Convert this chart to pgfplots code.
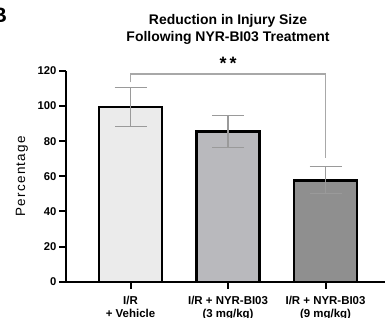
\documentclass[border=0pt]{standalone}
\usepackage{fontspec}
\setmainfont{Liberation Sans}
\newfontfamily\ylfont[LetterSpace=10]{Liberation Sans}
\usepackage{pgfplots}
\pgfplotsset{compat=1.18}
\definecolor{barA}{HTML}{EBEBEB}
\definecolor{barB}{HTML}{B9B9BD}
\definecolor{barC}{HTML}{8F8F8F}
\definecolor{errc}{HTML}{9A9A9A}
\definecolor{brc}{HTML}{A8A8A8}
\begin{document}
\begin{tikzpicture}
\useasboundingbox (0bp,0bp) rectangle (385bp,318bp);
\node[anchor=base east, font=\bfseries\fontsize{21}{24}\selectfont, inner sep=0pt] at (7.3bp,295bp) {B};
\node[anchor=base, font=\bfseries\fontsize{14}{16}\selectfont, inner sep=0pt] at (228bp,293bp) {Reduction in Injury Size};
\node[anchor=base, font=\bfseries\fontsize{14}{16}\selectfont, inner sep=0pt] at (228bp,276.3bp) {Following NYR-BI03 Treatment};
\begin{axis}[
  at={(66bp,36.3bp)}, anchor=south west,
  scale only axis, width=319bp, height=210.7bp,
  xmin=-0.662, xmax=2.61, ymin=0, ymax=120,
  axis x line=bottom, axis y line=left,
  axis line style={-, line width=2.4bp, black},
  ytick={0,20,40,60,80,100,120},
  xtick={0,1,2},
  xticklabels={{I/R\\+ Vehicle},{I/R + NYR-BI03\\(3 mg/kg)},{I/R + NYR-BI03\\(9 mg/kg)}},
  tick align=outside, major tick length=7bp,
  tick style={line width=2bp, black},
  /pgf/number format/assume math mode=true,
  yticklabel style={font=\bfseries\fontsize{11.3}{13}\selectfont, inner sep=2.5bp},
  xticklabel style={font=\bfseries\fontsize{11.5}{12.6}\selectfont, align=center, inner sep=2bp, yshift=-5.5bp},
  ylabel={\ylfont Percentage},
  ylabel style={font=\fontsize{13.5}{15}\selectfont, at={(axis description cs:-0.138,0.5)}, anchor=center},
  clip=false,
  bar width=63bp, bar shift=0pt,
]
\addplot[ybar, bar shift=0pt, fill=barA, draw=black, line width=2.4bp,
  error bars/.cd, y dir=both, y explicit,
  error bar style={line width=1.1bp, errc},
  error mark options={rotate=90, mark size=16bp, line width=1.1bp, errc}]
  coordinates {(0,99.5) +- (0,11)};
\addplot[ybar, bar shift=0pt, fill=barB, draw=black, line width=2.4bp,
  error bars/.cd, y dir=both, y explicit,
  error bar style={line width=1.1bp, errc},
  error mark options={rotate=90, mark size=16bp, line width=1.1bp, errc}]
  coordinates {(1,85.5) +- (0,9)};
\addplot[ybar, bar shift=0pt, fill=barC, draw=black, line width=2.4bp,
  error bars/.cd, y dir=both, y explicit,
  error bar style={line width=1.1bp, errc},
  error mark options={rotate=90, mark size=16bp, line width=1.1bp, errc}]
  coordinates {(2,57.7) +- (0,7.7)};
\addplot[brc, line width=1.1bp, mark=none] coordinates {(0,113.5) (0,118.3) (2,118.3) (2,70.3)};
\node[font=\bfseries\fontsize{18}{20}\selectfont, inner sep=0pt] at (axis cs:1,124.5) {*\,*};
\end{axis}
\end{tikzpicture}
\end{document}
